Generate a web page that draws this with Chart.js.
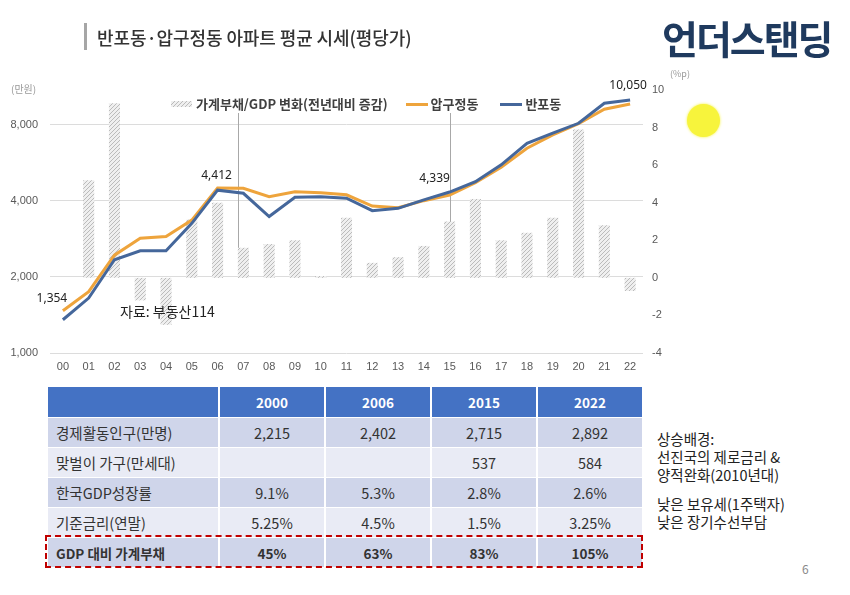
<!DOCTYPE html>
<html><head><meta charset="utf-8">
<script src="https://cdn.jsdelivr.net/npm/chart.js@4"></script>
<style>
html,body{margin:0;padding:0;background:#fff;}
body{width:850px;height:595px;position:relative;overflow:hidden;font-family:"Noto Sans CJK KR","Noto Sans",sans-serif;}
#c{position:absolute;left:0;top:0;}
.abs{position:absolute;white-space:nowrap;}
#tbar{left:84px;top:23px;width:3px;height:27px;background:#a6a6a6;}
#title{left:97px;top:24px;font-size:18px;font-weight:500;color:#333;line-height:26px;letter-spacing:-0.1px;}
#logo{left:662px;top:13px;font-size:39px;font-weight:700;color:#1f3a5e;letter-spacing:-2px;line-height:48px;}
#unitL{left:11px;top:81px;font-size:10px;color:#999;}
#unitR{left:670px;top:67px;font-size:9px;color:#999;}
#yellow{left:687px;top:104px;width:33px;height:33px;border-radius:50%;background:#f7f43c;box-shadow:0 0 3px #f7f43c;}
#legend{left:171px;top:95px;font-size:13px;font-weight:700;color:#404040;line-height:18px;display:flex;align-items:center;}
.sw{display:inline-block;width:21px;height:6px;margin-right:4px;}
.ln{display:inline-block;width:22px;height:3px;margin-right:3px;}
#src{left:120px;top:301px;font-size:14px;color:#222;}
table{position:absolute;left:48px;top:386px;border-collapse:collapse;font-size:14.5px;color:#333;}
td{height:29px;padding:0;text-align:center;border-left:2px solid #fff;border-top:1px solid #fff;}
td:first-child{text-align:left;padding-left:8px;width:162px;border-left:none;}
td.v{width:104px;}
tr.h td{background:#4472c4;color:#fff;font-weight:700;height:30px;font-size:13.5px;}
tr.a td{background:#cfd5ea;}
tr.b td{background:#e9ebf5;}
tr.bold td{font-weight:700;font-size:13.5px;}
#dash{left:45px;top:535px;width:594px;height:29px;border:2px dashed #c00000;}
#notes{left:657px;top:430px;font-size:14.5px;color:#222;line-height:18px;}
#pg{left:802px;top:560px;font-size:12px;color:#888;}
</style></head><body>
<canvas id="c" width="700" height="375"></canvas>
<div class="abs" id="tbar"></div>
<div class="abs" id="title">반포동·압구정동 아파트 평균 시세(평당가)</div>
<div class="abs" id="logo">언더스탠딩</div>
<div class="abs" id="unitL">(만원)</div>
<div class="abs" id="unitR">(%p)</div>
<div class="abs" id="yellow"></div>
<div class="abs" id="legend"><span class="sw" id="swh"></span>가계부채/GDP 변화(전년대비 증감)<span style="width:18px;display:inline-block"></span><span class="ln" style="background:#eea43c"></span>압구정동<span style="width:22px;display:inline-block"></span><span class="ln" style="background:#45679b"></span>반포동</div>
<div class="abs" id="src">자료: 부동산114</div>
<table>
<tr class="h"><td></td><td class="v">2000</td><td class="v">2006</td><td class="v">2015</td><td class="v">2022</td></tr>
<tr class="a"><td>경제활동인구(만명)</td><td>2,215</td><td>2,402</td><td>2,715</td><td>2,892</td></tr>
<tr class="b"><td>맞벌이 가구(만세대)</td><td></td><td></td><td>537</td><td>584</td></tr>
<tr class="a"><td>한국GDP성장률</td><td>9.1%</td><td>5.3%</td><td>2.8%</td><td>2.6%</td></tr>
<tr class="b"><td>기준금리(연말)</td><td>5.25%</td><td>4.5%</td><td>1.5%</td><td>3.25%</td></tr>
<tr class="a bold"><td>GDP 대비 가계부채</td><td>45%</td><td>63%</td><td>83%</td><td>105%</td></tr>
</table>
<div class="abs" id="dash"></div>
<div class="abs" id="notes">상승배경:<br>선진국의 제로금리 &amp;<br>양적완화(2010년대)<br><div style="height:11px"></div>낮은 보유세(1주택자)<br>낮은 장기수선부담</div>
<div class="abs" id="pg">6</div>
<script>
const years = ['00','01','02','03','04','05','06','07','08','09','10','11','12','13','14','15','16','17','18','19','20','21','22'];
const banpo = [1354,1650,2340,2540,2540,3260,4412,4290,3470,4140,4160,4100,3660,3740,4040,4339,4770,5560,6770,7420,8120,9750,10050];
const apgu  = [1470,1750,2440,2850,2890,3360,4500,4490,4160,4350,4310,4230,3820,3760,4010,4220,4730,5440,6470,7300,8100,9230,9690];
const debtChange = [0,5.2,9.3,-1.2,-2.5,3.1,4.0,1.6,1.8,2.0,0.1,3.2,0.8,1.1,1.7,3.0,4.2,2.0,2.4,3.2,7.9,2.8,-0.7];
const leftTicks = [1000,2000,4000,8000];
const labeledIdx = [0,6,15,22];
const markerYears = [6.8,15];

function hatch(){
  const c=document.createElement('canvas');c.width=4;c.height=4;
  const g=c.getContext('2d');
  g.fillStyle='#efefef';g.fillRect(0,0,4,4);
  g.strokeStyle='#bbbbbb';g.lineWidth=1;
  g.beginPath();g.moveTo(-1,5);g.lineTo(5,-1);g.stroke();
  g.beginPath();g.moveTo(-1,1);g.lineTo(1,-1);g.stroke();
  g.beginPath();g.moveTo(3,5);g.lineTo(5,3);g.stroke();
  return c;
}
const hc=hatch();
document.getElementById('swh').style.background='url('+hc.toDataURL()+')';
const ctx=document.getElementById('c').getContext('2d');
const pat=ctx.createPattern(hc,'repeat');

const overlay={
  id:'overlay',
  beforeDatasetsDraw(chart){
    const x=chart.scales.x,yr=chart.scales.yR,c=chart.ctx;
    c.save();c.strokeStyle='#a8a8a8';c.lineWidth=1;
    markerYears.forEach(v=>{
      const i=Math.floor(v),f=v-i;
      const px=x.getPixelForValue(i)+(i+1<years.length?f*(x.getPixelForValue(i+1)-x.getPixelForValue(i)):0);
      c.beginPath();c.moveTo(Math.round(px)+0.5,113);c.lineTo(Math.round(px)+0.5,yr.getPixelForValue(0));c.stroke();
    });
    c.restore();
  },
  afterDatasetsDraw(chart){
    const x=chart.scales.x,y=chart.scales.yL,c=chart.ctx;
    c.save();c.font='12px "Noto Sans","DejaVu Sans",sans-serif';c.fillStyle='#222';c.textBaseline='middle';c.textAlign='center';
    const off={0:[-11,-21],6:[-1,-15],15:[-15,-13],22:[-2,-14]};
    labeledIdx.forEach(i=>{
      const px=x.getPixelForValue(i),py=y.getPixelForValue(banpo[i]);
      c.fillText(banpo[i].toLocaleString('en-US'),px+off[i][0],py+off[i][1]);
    });
    c.restore();
  }
};

new Chart(ctx,{
  data:{labels:years,datasets:[
    {type:'line',label:'반포동',data:banpo,yAxisID:'yL',borderColor:'#45679b',borderWidth:3,pointRadius:0,tension:0,order:1},
    {type:'line',label:'압구정동',data:apgu,yAxisID:'yL',borderColor:'#eea43c',borderWidth:3,pointRadius:0,tension:0,order:2},
    {type:'bar',label:'가계부채/GDP 변화(전년대비 증감)',data:debtChange,yAxisID:'yR',backgroundColor:pat,borderWidth:0,barPercentage:0.43,categoryPercentage:1,order:3}
  ]},
  options:{
    responsive:false,animation:false,
    layout:{padding:{top:90,left:0,right:0,bottom:0}},
    plugins:{legend:{display:false},tooltip:{enabled:false}},
    scales:{
      x:{grid:{display:false,drawTicks:false},border:{display:false},
         ticks:{color:'#595959',font:{size:11,family:'"Liberation Sans",sans-serif'},padding:7,maxRotation:0,autoSkip:false},
         afterFit(s){s.height=22;}},
      yL:{type:'logarithmic',position:'left',min:1000,max:11000,
         afterBuildTicks(s){s.ticks=leftTicks.map(v=>({value:v}));},
         ticks:{color:'#595959',font:{size:11,family:'"Liberation Sans",sans-serif'},padding:12,callback:v=>Number(v).toLocaleString('en-US')},
         grid:{color:'#dcdcdc',drawTicks:false},border:{display:false},
         afterFit(s){s.width=50;}},
      yR:{position:'right',min:-4,max:10,
         ticks:{stepSize:2,color:'#595959',font:{size:11,family:'"Liberation Sans",sans-serif'},padding:9},
         grid:{display:false,drawTicks:false},border:{display:false},
         afterFit(s){s.width=57;}}
    }
  },
  plugins:[overlay]
});
</script>
</body></html>
